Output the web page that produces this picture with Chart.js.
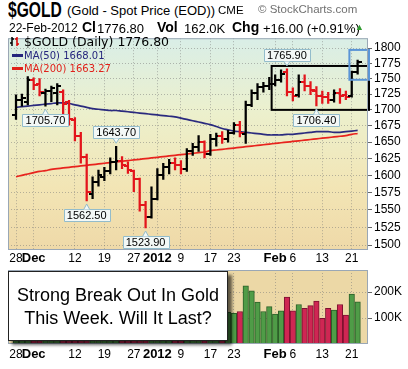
<!DOCTYPE html>
<html>
<head>
<meta charset="utf-8">
<script src="https://cdn.jsdelivr.net/npm/chart.js@4.4.1/dist/chart.umd.min.js"></script>
<style>
  html, body { margin: 0; padding: 0; background: #fff; }
  body { width: 408px; height: 369px; position: relative; overflow: hidden; font-family: "Liberation Sans", Arial, sans-serif; color: #000; }
  canvas { position: absolute; left: 0; }
  #priceChart { top: 29px; }
  #volChart { top: 260px; }
  .t { position: absolute; white-space: nowrap; line-height: 1; }
  .b { font-weight: bold; font-size: 14px; }
  .lg { font-family: "DejaVu Sans", sans-serif; }
  .dash { display: inline-block; width: 11px; height: 3px; vertical-align: middle; margin-right: 1px; position: relative; top: -1px; }
  #note { position: absolute; left: 8px; top: 271px; width: 220px; height: 70px; background: #fff; border: 1px solid #222;
          box-shadow: 4px 4px 3px rgba(0,0,0,0.6); font-size: 18px; line-height: 23px; text-align: center; padding-top: 12px; box-sizing: border-box; }
</style>
</head>
<body>
<canvas id="priceChart" width="408" height="239"></canvas>
<canvas id="volChart" width="408" height="109"></canvas>

<div class="t b" style="left:8px;top:-1px;font-size:22px;transform:scaleX(0.71);transform-origin:0 0;">$GOLD</div>
<div class="t" style="left:67px;top:4px;font-size:13px;">(Gold - Spot Price (EOD))</div>
<div class="t" style="left:218px;top:5px;font-size:11.5px;">CME</div>
<div class="t" style="left:258px;top:4px;font-size:11.5px;color:#707070;">© StockCharts.com</div>

<div class="t" style="left:9px;top:22px;font-size:12px;">22-Feb-2012</div>
<div class="t b" style="left:82px;top:20px;">Cl</div>
<div class="t" id="hdClose" style="left:97px;top:22px;font-size:13px;"></div>
<div class="t b" style="left:157px;top:20px;">Vol</div>
<div class="t" id="hdVol" style="left:184px;top:22px;font-size:13px;"></div>
<div class="t b" style="left:232px;top:20px;">Chg</div>
<div class="t" id="hdChg" style="left:263px;top:22px;font-size:13px;"></div>
<div class="t" style="left:355px;top:23px;font-size:9px;color:#2f9a2f;">▲</div>

<div class="t lg" style="left:10px;top:36px;font-size:12.5px;">
  <svg width="10" height="11" style="vertical-align:-1px"><path d="M2 1v9M0 7h2M2 3h2" stroke="#000" stroke-width="1.5" fill="none"/><path d="M7 1v9M5 3h2M7 8h2" stroke="#d00" stroke-width="1.5" fill="none"/></svg>
  $GOLD (Daily) <span id="lgClose"></span></div>
<div class="t lg" style="left:12px;top:51px;font-size:10px;color:#25257d;"><span class="dash" style="background:#25257d"></span>MA(50) <span id="lgMa50"></span></div>
<div class="t lg" style="left:12px;top:64px;font-size:10px;color:#e0201a;"><span class="dash" style="background:#e0201a"></span>MA(200) <span id="lgMa200"></span></div>

<div id="note">Strong Break Out In Gold<br>This Week. Will It Last?</div>

<script>
// trading days shown on the chart
const dates = ['2011-11-28','2011-11-29','2011-11-30','2011-12-01','2011-12-02','2011-12-05','2011-12-06','2011-12-07','2011-12-08','2011-12-09',
  '2011-12-12','2011-12-13','2011-12-14','2011-12-15','2011-12-16','2011-12-19','2011-12-20','2011-12-21','2011-12-22','2011-12-23',
  '2011-12-27','2011-12-28','2011-12-29','2011-12-30','2012-01-03','2012-01-04','2012-01-05','2012-01-06','2012-01-09','2012-01-10',
  '2012-01-11','2012-01-12','2012-01-13','2012-01-17','2012-01-18','2012-01-19','2012-01-20','2012-01-23','2012-01-24','2012-01-25',
  '2012-01-26','2012-01-27','2012-01-30','2012-01-31','2012-02-01','2012-02-02','2012-02-03','2012-02-06','2012-02-07','2012-02-08',
  '2012-02-09','2012-02-10','2012-02-13','2012-02-14','2012-02-15','2012-02-16','2012-02-17','2012-02-21','2012-02-22'];

const opens = [1692,1716,1712,1748,1742,1726,1730,1726,1728,1712,
  1684,1660,1628,1572,1590,1598,1606,1620,1622,1614,
  1606,1594,1556,1540,1566,1600,1612,1618,1616,1610,
  1636,1642,1650,1632,1655,1660,1655,1664,1676,1662,
  1708,1726,1736,1738,1742,1748,1760,1728,1724,1745,
  1738,1730,1722,1720,1716,1727,1724,1722,1760];
const highs = [1724,1725,1753,1751,1750,1733,1738,1742,1732,1715,
  1688,1665,1632,1598,1608,1612,1626,1643.7,1628,1620,
  1608,1596,1562,1583,1610,1618,1624,1626,1622,1640,
  1648,1660,1652,1662,1664,1666,1668,1680,1682,1714,
  1732,1742,1744,1752,1756,1764,1765.9,1735,1756,1756,
  1745,1737,1730,1728,1732,1734,1730,1762,1780];
const lows = [1685,1706,1708,1732,1722,1705.7,1713,1708,1686,1676,
  1652,1618,1562.5,1566,1584,1592,1602,1608,1610,1603,
  1576,1548,1523.9,1538,1564,1594,1602,1608,1602,1606,
  1630,1636,1626,1630,1644,1648,1650,1662,1658,1648,
  1705,1716,1728,1732,1738,1744,1722,1714,1720,1730,
  1724,1706.4,1710,1710,1712,1710,1716,1720,1757];
const closes = [1716,1719,1747,1740,1728,1730,1734,1738,1710,1685,
  1660,1628,1575,1590,1600,1606,1620,1622,1615,1608,
  1594,1556,1540,1566,1600,1612,1618,1616,1610,1636,
  1642,1650,1632,1655,1660,1655,1664,1676,1664,1708,
  1726,1736,1738,1742,1748,1758,1728,1722,1745,1738,
  1732,1722,1720,1716,1727,1722,1720,1760.8,1776.8];
const volumes = [135000,128000,190000,150000,142000,120000,118000,125000,160000,150000,
  175000,185000,230000,210000,150000,120000,125000,140000,130000,95000,
  110000,150000,175000,160000,140000,130000,125000,120000,115000,135000,
  140000,130000,150000,120000,125000,118000,122000,118000,125000,224000,
  205000,161000,125000,144000,115000,128000,181000,128000,152000,137000,
  148000,165000,99000,137000,131000,152000,111000,192000,162000];
const ma50 = [1704,1705,1706,1707,1708,1709,1710,1711,1711,1710,
  1708,1706,1704,1702,1701,1700,1699,1699,1698,1697,
  1696,1695,1694,1693,1692,1691,1690,1689,1687,1685,
  1683,1681,1679,1677,1674,1671,1669,1667,1666,1665,
  1664,1663,1662,1661,1661,1661,1662,1662,1663,1664,
  1665,1666,1666,1666,1665,1665,1666,1667,1668.01];
const ma200 = [1598,1600,1602,1604,1606,1607,1609,1610,1611,1612,
  1613,1614,1615,1616,1617,1618,1619,1620,1621,1622,
  1623,1624,1625,1626,1627,1628,1629,1630,1631,1632,
  1633,1634,1635,1637,1638,1639,1640,1641,1642,1643,
  1644,1645,1646,1647,1648,1649,1650,1651,1652,1653,
  1654,1655,1656,1657,1658,1659,1660,1662,1663.27];

// date axis labels (index into dates)
const tickIdx = [0, 3, 10, 15, 20, 24, 28, 33, 37, 44, 47, 52, 57];
const tickText = ['28', 'Dec', '12', '19', '27', '2012', '9', '17', '23', 'Feb', '6', '13', '21'];
const boldText = ['Dec', '2012', 'Feb'];
const priceTicks = [1500,1525,1550,1575,1600,1625,1650,1675,1700,1725,1750,1775,1800];
const volTicks = [100000, 200000];
const volText = ['100K', '200K'];

// swing points that get a value label
const peaks = [[5, 'low'], [12, 'low'], [17, 'high'], [22, 'low'], [46, 'high'], [51, 'low']];
// drawn boxes, in bar index / price units
const marks = [
  {from: 43.4, to: 61, top: 1770.5, bottom: 1700, color: '#000', width: 2},
  {from: 56.6, to: 61, top: 1797, bottom: 1748, color: '#5b95d6', width: 2}
];

const UP = '#000000', DOWN = '#e3141b';
const VUP = '#4f9c47', VUPB = '#2c5f28', VDN = '#cf2653', VDNB = '#7c1230';
const idx = dates.map((d, i) => i);
const isUp = i => i === 0 || closes[i] >= closes[i - 1];

const n = closes.length;
document.getElementById('hdClose').textContent = closes[n - 1].toFixed(2);
document.getElementById('hdVol').textContent = (volumes[n - 1] / 1000).toFixed(1) + 'K';
const chg = closes[n - 1] - closes[n - 2];
document.getElementById('hdChg').textContent = '+' + chg.toFixed(2) + ' (+' + (chg / closes[n - 2] * 100).toFixed(2) + '%)';
document.getElementById('lgClose').textContent = closes[n - 1].toFixed(2);
document.getElementById('lgMa50').textContent = ma50[n - 1].toFixed(2);
document.getElementById('lgMa200').textContent = ma200[n - 1].toFixed(2);

function tickMark(side, color) {
  const c = document.createElement('canvas');
  c.width = 8; c.height = 2;
  const g = c.getContext('2d');
  g.fillStyle = color;
  g.fillRect(side === 'left' ? 0 : 4, 0, 4, 2);
  return c;
}
const openUp = tickMark('left', UP), openDn = tickMark('left', DOWN);
const closeUp = tickMark('right', UP), closeDn = tickMark('right', DOWN);

function panelPlugin(stops) {
  return {
    id: 'panel',
    beforeDraw(chart) {
      const {ctx, chartArea: a} = chart;
      const g = ctx.createLinearGradient(0, a.top, 0, a.bottom);
      stops.forEach(s => g.addColorStop(s[0], s[1]));
      ctx.save();
      ctx.fillStyle = g;
      ctx.fillRect(a.left, a.top, a.right - a.left, a.bottom - a.top);
      ctx.restore();
    },
    afterDraw(chart) {
      const {ctx, chartArea: a} = chart;
      ctx.save();
      ctx.strokeStyle = '#9aa7b5';
      ctx.lineWidth = 1;
      ctx.strokeRect(a.left + 0.5, a.top + 0.5, a.right - a.left - 1, a.bottom - a.top - 1);
      ctx.restore();
    }
  };
}

const notes = {
  id: 'notes',
  afterDatasetsDraw(chart) {
    const {ctx, chartArea: a, scales: {x, y}} = chart;
    ctx.save();
    marks.forEach(m => {
      const x0 = x.getPixelForValue(m.from);
      const x1 = Math.min(x.getPixelForValue(m.to), a.right + 1);
      const y0 = y.getPixelForValue(m.top), y1 = y.getPixelForValue(m.bottom);
      ctx.strokeStyle = m.color;
      ctx.lineWidth = m.width;
      ctx.strokeRect(x0, y0, x1 - x0, y1 - y0);
    });
    ctx.font = '11px "Liberation Sans", Arial, sans-serif';
    ctx.textAlign = 'center';
    ctx.textBaseline = 'middle';
    peaks.forEach(([i, kind]) => {
      const v = kind === 'low' ? lows[i] : highs[i];
      const txt = v.toFixed(2);
      const px = x.getPixelForValue(i), py = y.getPixelForValue(v);
      const w = Math.round(ctx.measureText(txt).width) + 6, h = 12;
      const bx = Math.round(px - w / 2) + 0.5;
      const by = Math.round(kind === 'low' ? py + 8 : py - 8 - h) + 0.5;
      const edge = kind === 'low' ? by : by + h;
      const tip = kind === 'low' ? py + 3 : py - 3;
      ctx.fillStyle = '#f3f8f6';
      ctx.strokeStyle = '#93bccb';
      ctx.lineWidth = 1;
      ctx.beginPath();
      ctx.rect(bx, by, w, h);
      ctx.fill(); ctx.stroke();
      ctx.beginPath();
      ctx.moveTo(px - 3, edge); ctx.lineTo(px, tip); ctx.lineTo(px + 3, edge);
      ctx.fill(); ctx.stroke();
      ctx.fillStyle = '#000';
      ctx.fillText(txt, px, by + h / 2 + 0.5);
    });
    ctx.restore();
  }
};

function dateAxis(height, pad) {
  return {
    type: 'linear', min: -1.36, max: 59.76, offset: false,
    afterBuildTicks: s => { s.ticks = tickIdx.map(v => ({value: v})); },
    afterFit: s => { s.height = height; },
    ticks: {
      autoSkip: false, maxRotation: 0, padding: pad, color: '#000',
      callback: (v, i) => tickText[i],
      font: c => boldText.includes(tickText[c.index])
        ? {family: 'Liberation Sans', size: 13, weight: 'bold'}
        : {family: 'Liberation Sans', size: 12}
    },
    grid: {color: 'rgba(120,120,120,0.5)', drawTicks: false, offset: false},
    border: {display: false, dash: [1, 2]}
  };
}

new Chart(document.getElementById('priceChart'), {
  type: 'bar',
  data: {
    datasets: [
      {type: 'bar', data: idx.map(i => ({x: i, y: [lows[i], highs[i]]})),
        backgroundColor: idx.map(i => isUp(i) ? UP : DOWN), barThickness: 1.6, order: 1},
      {type: 'line', data: idx.map(i => ({x: i, y: opens[i]})), showLine: false,
        pointStyle: idx.map(i => isUp(i) ? openUp : openDn), pointRadius: 3, order: 0},
      {type: 'line', data: idx.map(i => ({x: i, y: closes[i]})), showLine: false,
        pointStyle: idx.map(i => isUp(i) ? closeUp : closeDn), pointRadius: 3, order: 0},
      {type: 'line', data: idx.map(i => ({x: i, y: ma50[i]})), borderColor: '#2a2a7e', borderWidth: 1.7,
        pointRadius: 0, tension: 0.4, order: 2},
      {type: 'line', data: idx.map(i => ({x: i, y: ma200[i]})), borderColor: '#e8231d', borderWidth: 1.7,
        pointRadius: 0, tension: 0.4, order: 2}
    ]
  },
  options: {
    responsive: false, animation: false, events: [],
    layout: {padding: {left: 8, right: 0, top: 7, bottom: 0}},
    plugins: {legend: {display: false}, tooltip: {enabled: false}},
    scales: {
      x: dateAxis(18, 1),
      y: {
        type: 'logarithmic', position: 'right', min: 1493.2, max: 1816.6,
        afterBuildTicks: s => { s.ticks = priceTicks.map(v => ({value: v})); },
        afterFit: s => { s.width = 40; },
        ticks: {callback: v => String(v), color: '#000', padding: 2, font: {family: 'Liberation Sans', size: 12}},
        grid: {color: 'rgba(120,120,120,0.5)', tickLength: 4, tickColor: '#666'},
        border: {display: false, dash: [1, 2]}
      }
    }
  },
  plugins: [panelPlugin([[0, '#d9eee7'], [0.35, '#ecf0cd'], [0.7, '#f2e5b5'], [1, '#efd9a8']]), notes]
});

new Chart(document.getElementById('volChart'), {
  type: 'bar',
  data: {
    datasets: [{
      data: idx.map(i => ({x: i, y: volumes[i]})),
      backgroundColor: idx.map(i => isUp(i) ? VUP : VDN),
      borderColor: idx.map(i => isUp(i) ? VUPB : VDNB),
      borderWidth: 1, barThickness: 5.5
    }]
  },
  options: {
    responsive: false, animation: false, events: [],
    layout: {padding: {left: 8, right: 0, top: 10, bottom: 0}},
    plugins: {legend: {display: false}, tooltip: {enabled: false}},
    scales: {
      x: dateAxis(25, 3),
      y: {
        type: 'linear', position: 'right', min: 0, max: 285000,
        afterBuildTicks: s => { s.ticks = volTicks.map(v => ({value: v})); },
        afterFit: s => { s.width = 40; },
        ticks: {callback: (v, i) => volText[i], color: '#000', padding: 2, font: {family: 'Liberation Sans', size: 12}},
        grid: {color: 'rgba(120,120,120,0.5)', tickLength: 4, tickColor: '#666'},
        border: {display: false, dash: [1, 2]}
      }
    }
  },
  plugins: [panelPlugin([[0, '#ecd8a6'], [1, '#ecd8a6']])]
});
</script>
</body>
</html>
